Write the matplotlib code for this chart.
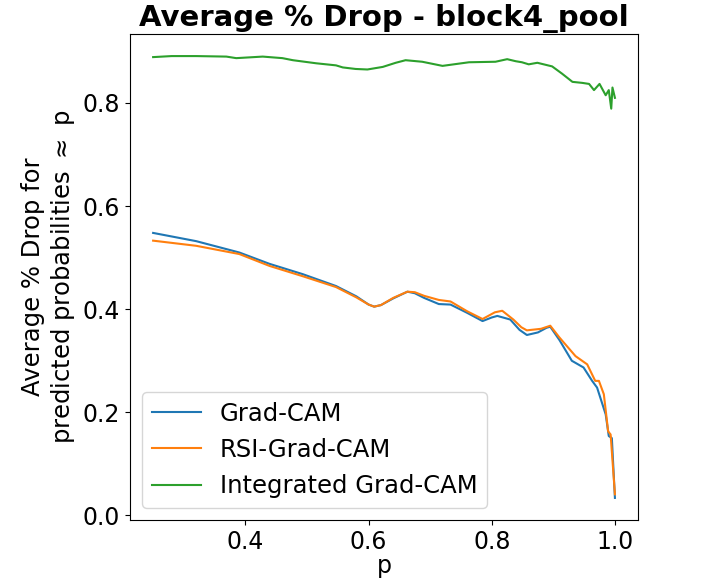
import numpy as np
import matplotlib
matplotlib.use("Agg")
import matplotlib.pyplot as plt

# Grad-CAM (blue)
x_grad = [0.250, 0.320, 0.390, 0.439, 0.493, 0.547, 0.580, 0.600, 0.609, 0.620,
          0.640, 0.663, 0.675, 0.690, 0.714, 0.733, 0.760, 0.785, 0.800, 0.809,
          0.830, 0.845, 0.857, 0.875, 0.889, 0.895, 0.910, 0.930, 0.949, 0.963,
          0.971, 0.985, 0.990, 0.995, 1.000]
y_grad = [0.548, 0.532, 0.510, 0.488, 0.468, 0.445, 0.425, 0.409, 0.405, 0.408,
          0.421, 0.434, 0.431, 0.422, 0.410, 0.409, 0.393, 0.377, 0.384, 0.387,
          0.380, 0.360, 0.350, 0.355, 0.364, 0.366, 0.340, 0.300, 0.287, 0.261,
          0.248, 0.196, 0.154, 0.150, 0.034]

# RSI-Grad-CAM (orange)
x_rsi = [0.250, 0.320, 0.390, 0.439, 0.493, 0.547, 0.580, 0.600, 0.609, 0.620,
         0.640, 0.663, 0.675, 0.690, 0.714, 0.733, 0.760, 0.785, 0.805, 0.817,
         0.835, 0.848, 0.857, 0.880, 0.895, 0.910, 0.936, 0.955, 0.968, 0.974,
         0.982, 0.989, 0.993, 1.000]
y_rsi = [0.533, 0.523, 0.507, 0.484, 0.464, 0.443, 0.423, 0.409, 0.405, 0.408,
         0.422, 0.434, 0.433, 0.426, 0.418, 0.415, 0.396, 0.381, 0.394, 0.397,
         0.380, 0.365, 0.359, 0.362, 0.368, 0.345, 0.309, 0.293, 0.261, 0.261,
         0.235, 0.163, 0.157, 0.041]

# Integrated Grad-CAM (green)
x_int = [0.250, 0.280, 0.320, 0.369, 0.385, 0.428, 0.460, 0.477, 0.515, 0.547,
         0.558, 0.579, 0.598, 0.623, 0.644, 0.660, 0.687, 0.720, 0.763, 0.806,
         0.825, 0.839, 0.849, 0.860, 0.874, 0.898, 0.914, 0.931, 0.947, 0.958,
         0.966, 0.975, 0.985, 0.990, 0.994, 0.996, 1.000]
y_int = [0.889, 0.891, 0.891, 0.890, 0.887, 0.890, 0.887, 0.883, 0.877, 0.873,
         0.869, 0.866, 0.865, 0.870, 0.878, 0.883, 0.880, 0.872, 0.879, 0.880,
         0.885, 0.881, 0.879, 0.875, 0.878, 0.871, 0.857, 0.841, 0.839, 0.837,
         0.825, 0.837, 0.815, 0.825, 0.789, 0.830, 0.810]

fig = plt.figure(figsize=(7.28, 5.79), dpi=100)
ax = fig.add_axes([0.1786, 0.1019, 0.6978, 0.8394])

ax.plot(x_grad, y_grad, label="Grad-CAM")
ax.plot(x_rsi, y_rsi, label="RSI-Grad-CAM")
ax.plot(x_int, y_int, label="Integrated Grad-CAM")

ax.set_xticks([0.4, 0.6, 0.8, 1.0])
ax.set_yticks([0.0, 0.2, 0.4, 0.6, 0.8])
ax.tick_params(labelsize=17)
ax.set_xlabel("p", size=17, labelpad=0)
ax.set_ylabel("Average % Drop for\npredicted probabilities $\\approx$ p", size=17.5)
ax.set_title("Average % Drop - block4_pool", size=21, fontweight="bold")
ax.legend(loc="lower left", fontsize=17.5)

fig.savefig("out.png", dpi=100)
